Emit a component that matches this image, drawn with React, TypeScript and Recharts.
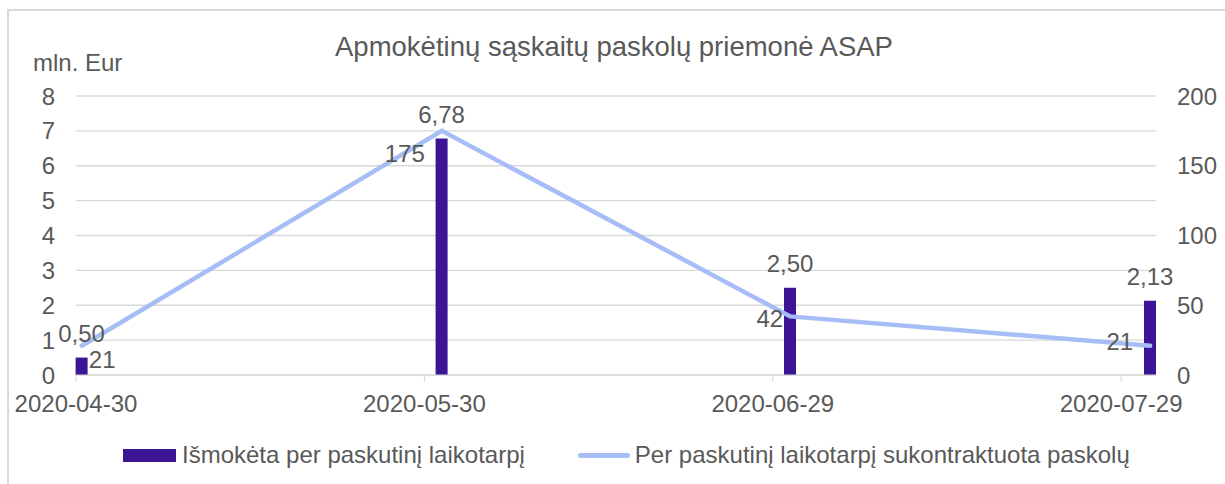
import { ComposedChart, Bar, Line, XAxis, YAxis, CartesianGrid, LabelList } from 'recharts';

// data
const dates = ['2020-04-30', '2020-05-31', '2020-06-30', '2020-07-31'];
const paidOut = [0.5, 6.78, 2.5, 2.13]; // mln. Eur, left axis
const contracted = [21, 175, 42, 21]; // right axis
const xTickLabels = ['2020-04-30', '2020-05-30', '2020-06-29', '2020-07-29'];
const leftTicks = [0, 1, 2, 3, 4, 5, 6, 7, 8];
const rightTicks = [0, 50, 100, 150, 200];

const TITLE = 'Apmokėtinų sąskaitų paskolų priemonė ASAP';
const UNIT = 'mln. Eur';
const BAR_NAME = 'Išmokėta per paskutinį laikotarpį';
const LINE_NAME = 'Per paskutinį laikotarpį sukontraktuota paskolų';

const BAR_COLOR = '#3c1596';
const LINE_COLOR = '#a6bdf6';
const TEXT = '#595959';
const GRID = '#d9d9d9';
const FONT = '"Liberation Sans", Arial, sans-serif';
const FS = 24;

const DAY = 86400000;
const toTs = (s: string) => Date.parse(s + 'T00:00:00Z');
const fmtDate = (ts: number) => new Date(ts).toISOString().slice(0, 10);

// excel date axis puts each point in the middle of its day
const data = dates.map((d, i) => ({
    ts: toTs(d) + DAY / 2,
    paid: paidOut[i],
    contracted: contracted[i],
}));

const xDomain = [toTs('2020-04-30'), toTs('2020-08-01')];
const xTicks = xTickLabels.map(toTs);

// where excel put each line label relative to its point
const linePlacement = [
    { anchor: 'start', dx: 7, dy: 14 },
    { anchor: 'end', dx: -17, dy: 22 },
    { anchor: 'end', dx: -7, dy: 2 },
    { anchor: 'end', dx: -17, dy: -4 },
];

const fmtComma = (v: unknown) => (typeof v === 'number' ? v.toFixed(2).replace('.', ',') : '');

// eslint-disable-next-line @typescript-eslint/no-explicit-any
const LineLabel = (props: any) => {
    const { x, y, value, index } = props;
    const p = linePlacement[index] ?? linePlacement[0];
    return (
        <text x={x + p.dx} y={y + p.dy} dy="0.36em" textAnchor={p.anchor} fill={TEXT} fontSize={FS} fontFamily={FONT}>
            {value}
        </text>
    );
};

export default function App() {
    const tick = { fontSize: FS, fill: TEXT, fontFamily: FONT };
    return (
        <div style={{ position: 'fixed', left: 0, top: 0, width: 1225, height: 484, overflow: 'hidden', background: '#fff', fontFamily: FONT }}>
            <div style={{ position: 'absolute', left: 7, top: 9, width: 1300, height: 600, border: `2px solid ${GRID}` }} />
            <div style={{ position: 'absolute', left: 0, width: 1228, top: 31, textAlign: 'center', fontSize: 27.5, color: TEXT, lineHeight: '32px' }}>
                {TITLE}
            </div>
            <div style={{ position: 'absolute', left: 33, top: 49, fontSize: FS, color: TEXT, lineHeight: '28px' }}>{UNIT}</div>
            <div style={{ position: 'absolute', left: 0, top: 0 }}>
                <ComposedChart width={1225} height={484} data={data} margin={{ top: 96, right: 0, bottom: 79, left: 0 }}>
                    <CartesianGrid vertical={false} stroke={GRID} strokeWidth={1.3} yAxisId="left" />
                    <XAxis
                        dataKey="ts"
                        type="number"
                        scale="linear"
                        domain={xDomain}
                        ticks={xTicks}
                        tickFormatter={fmtDate}
                        tick={tick}
                        tickSize={7}
                        tickMargin={13}
                        stroke={GRID}
                        height={30}
                        interval={0}
                    />
                    <YAxis yAxisId="left" domain={[0, 8]} ticks={leftTicks} width={76} axisLine={false} tickLine={false} tick={tick} tickSize={6} tickMargin={15} />
                    <YAxis yAxisId="right" orientation="right" domain={[0, 200]} ticks={rightTicks} width={69} axisLine={false} tickLine={false} tick={tick} tickSize={6} tickMargin={15} />
                    <Bar yAxisId="left" dataKey="paid" name={BAR_NAME} fill={BAR_COLOR} barSize={12} isAnimationActive={false}>
                        <LabelList dataKey="paid" position="top" offset={16} formatter={fmtComma} fill={TEXT} fontSize={FS} fontFamily={FONT} />
                    </Bar>
                    <Line yAxisId="right" dataKey="contracted" name={LINE_NAME} stroke={LINE_COLOR} strokeWidth={4.5} strokeLinecap="round" dot={false} activeDot={false} isAnimationActive={false}>
                        <LabelList dataKey="contracted" content={LineLabel} />
                    </Line>
                </ComposedChart>
            </div>
            <div style={{ position: 'absolute', left: 123, top: 441, display: 'flex', alignItems: 'center', fontSize: FS, color: TEXT, lineHeight: '28px', whiteSpace: 'nowrap' }}>
                <span style={{ display: 'inline-block', width: 53, height: 13, background: BAR_COLOR, marginRight: 6 }} />
                <span>{BAR_NAME}</span>
                <span style={{ display: 'inline-block', width: 52, height: 5, borderRadius: 3, background: LINE_COLOR, marginLeft: 53, marginRight: 5 }} />
                <span>{LINE_NAME}</span>
            </div>
        </div>
    );
}
